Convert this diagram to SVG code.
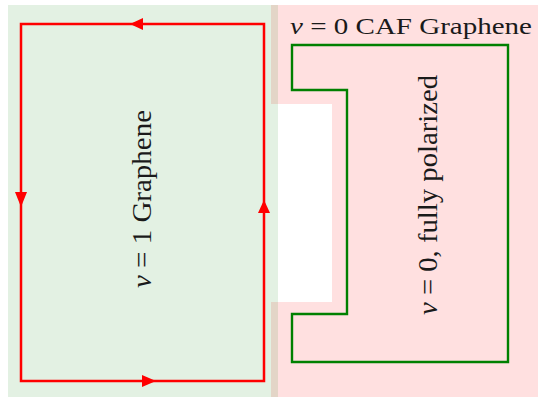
<svg xmlns="http://www.w3.org/2000/svg" width="538" height="397" viewBox="0 0 538 397">
<style>
.loop{fill:none;stroke:#ff0000;stroke-width:2.5;stroke-linejoin:miter}
.edge{fill:none;stroke:#008000;stroke-width:2.4;stroke-linejoin:miter}
.ah{fill:#ff0000}
.t{font-family:"Liberation Serif","DejaVu Serif",serif;fill:#1a1a1a}
</style>
<g id="regions">
<rect x="271" y="5" width="267" height="392" fill="#ff0000" fill-opacity="0.12"/>
<rect x="271" y="104" width="61" height="198" fill="#ffffff"/>
<rect x="8" y="5" width="270" height="392" fill="#008000" fill-opacity="0.11"/>
</g>
<g id="connectors">
<path class="loop" d="M21,24 H264 V381 H21 Z"/>
<polygon class="ah" points="130,24 143,18 143,30"/>
<polygon class="ah" points="156,381 142,375 142,387"/>
<polygon class="ah" points="21,207 15,192 27,192"/>
<polygon class="ah" points="264,200 258,213 270,213"/>
<path class="edge" d="M292,45 H508 V362 H292 V314 H347 V90 H292 Z"/>
</g>
<g id="label-caf">
<text class="t" x="290" y="34" font-size="23" textLength="242" lengthAdjust="spacingAndGlyphs"><tspan font-style="italic">ν</tspan> = 0 CAF Graphene</text>
</g>
<g id="label-nu1">
<text class="t" transform="translate(151,199) rotate(-90)" text-anchor="middle" font-size="27" textLength="178" lengthAdjust="spacingAndGlyphs"><tspan font-style="italic">ν</tspan> = 1 Graphene</text>
</g>
<g id="label-nu0">
<text class="t" transform="translate(437,195) rotate(-90)" text-anchor="middle" font-size="27" textLength="240" lengthAdjust="spacingAndGlyphs"><tspan font-style="italic">ν</tspan> = 0,  fully polarized</text>
</g>
</svg>
